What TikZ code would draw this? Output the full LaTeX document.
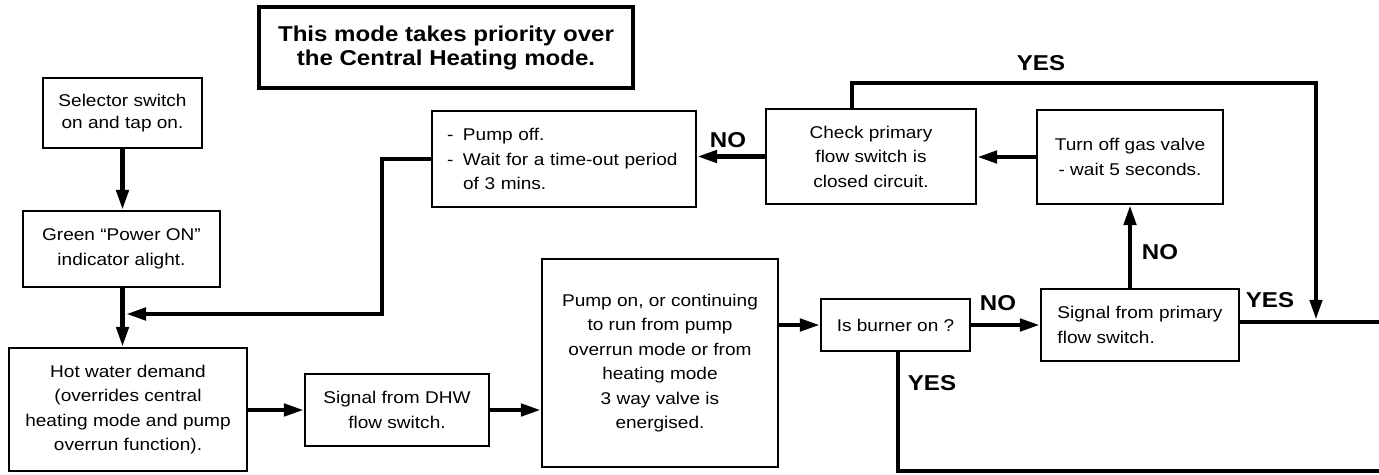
\documentclass[tikz,border=0pt]{standalone}
\usepackage{fontspec}
\setmainfont{Liberation Sans}[FakeStretch=1.12]
\usetikzlibrary{arrows.meta}
\newcommand\rfont{\fontsize{17}{24.5}\selectfont}
\newcommand\rfonttight{\fontsize{17}{22}\selectfont}
\newcommand\bfnt{\fontsize{21.5}{24}\selectfont\bfseries}
\tikzset{
  box/.style={draw, line width=2.2pt, inner sep=0pt, align=center, font=\rfont},
  titlebox/.style={draw, line width=3.5pt, inner sep=0pt, align=center, font=\bfnt},
  lbl/.style={font=\bfnt, inner sep=0pt},
  wire/.style={line width=4.5pt},
  arr/.style={line width=4.5pt, -{Triangle[length=20pt,width=12pt]}},
}
\begin{document}
\begin{tikzpicture}[x=1pt,y=-1pt]
\useasboundingbox (0,0) rectangle (1379,474);

% title
\node[titlebox, minimum width=374pt, minimum height=81pt] (title) at (446,47.5)
  {This mode takes priority over\\the Central Heating mode.};

% boxes
\node[box, font=\rfonttight, minimum width=159pt, minimum height=70pt] (sel) at (122.5,113)
  {Selector switch\\on and tap on.};
\node[box, minimum width=197pt, minimum height=76pt] (green) at (121.5,249)
  {Green “Power ON”\\indicator alight.};
\node[box, minimum width=238pt, minimum height=123pt] (hot) at (128,409.5)
  {Hot water demand\\(overrides central\\heating mode and pump\\overrun function).};
\node[box, minimum width=184pt, minimum height=72pt] (dhw) at (397,410)
  {Signal from DHW\\flow switch.};
\node[box, minimum width=236pt, minimum height=208pt] (pumpon) at (660,363)
  {Pump on, or continuing\\to run from pump\\overrun mode or from\\heating mode\\3 way valve is\\energised.};
\node[box, minimum width=149pt, minimum height=52pt] (burner) at (895.5,325)
  {Is burner on ?};
\node[box, align=left, minimum width=198pt, minimum height=72pt] (primary) at (1140,325)
  {Signal from primary\\flow switch.};
\node[box, minimum width=186pt, minimum height=94pt] (turnoff) at (1130,157)
  {Turn off gas valve\\- wait 5 seconds.};
\node[box, minimum width=210pt, minimum height=95pt] (check) at (871,156.5)
  {Check primary\\flow switch is\\closed circuit.};
\node[box, align=left, text width=234pt, inner xsep=15pt, minimum height=96pt] (pumpoff) at (564,159)
  {\makebox[16pt][l]{-}Pump off.\\\makebox[16pt][l]{-}Wait for a time-out period\\\hspace*{16pt}of 3 mins.};

% labels
\node[lbl] (noA) at (728,140) {NO};
\node[lbl] (yesTop) at (1041,63) {YES};
\node[lbl] (noB) at (1160,252) {NO};
\node[lbl] (noC) at (998,303) {NO};
\node[lbl] (yesR) at (1270,300) {YES};
\node[lbl] (yesB) at (932,383) {YES};

% helper coordinates
\coordinate (fbx) at (382,314);
\coordinate (j1) at (126,314);
\coordinate (lt) at (852,83);
\coordinate (rt) at (1316,83);
\coordinate (rj) at (1316,319.8);
\coordinate (exR) at (1379,322);
\coordinate (bl) at (898,471);
\coordinate (exB) at (1379,471);

% connectors
\draw[arr] (sel.south) -- (sel.south |- green.north);
\draw[arr] (green.south -| sel.south) -- (sel.south |- hot.north);
\draw[arr] (pumpoff.west) -- (pumpoff.west -| fbx) -- (fbx) -- (j1);
\draw[arr] (dhw.west -| hot.east) -- (dhw.west);
\draw[arr] (dhw.east) -- (dhw.east -| pumpon.west);
\draw[arr] (burner.west -| pumpon.east) -- (burner.west);
\draw[arr] (burner.east) -- (primary.west);
\draw[arr] (primary.north -| turnoff.south) -- (turnoff.south);
\draw[arr] (turnoff.west) -- (turnoff.west -| check.east);
\draw[arr] (check.west) -- (check.west -| pumpoff.east);
\draw[arr] (check.north -| lt) -- (lt) -- (rt) -- (rj);
\draw[wire] (primary.east |- exR) -- (exR);
\draw[wire] (burner.south -| bl) -- (bl) -- (exB);
\end{tikzpicture}
\end{document}
